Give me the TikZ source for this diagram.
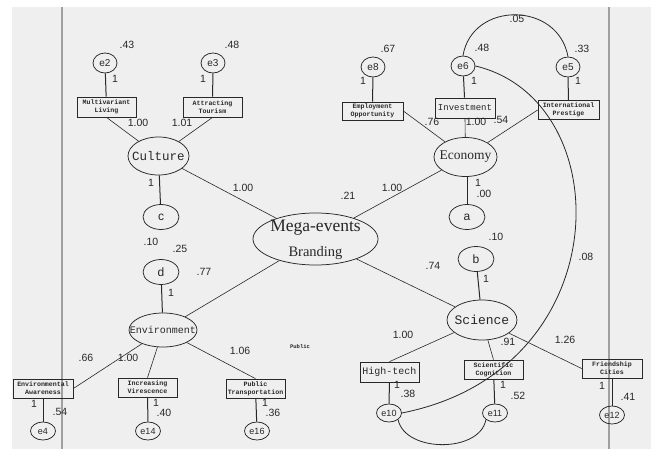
\documentclass[tikz,border=0pt]{standalone}
\usepackage{fontspec}
\setmainfont{Liberation Serif}
\newfontfamily\numfont{Liberation Sans}
\newfontfamily\monofont{Liberation Mono}
\usetikzlibrary{shapes.geometric}
\definecolor{bgc}{RGB}{239,239,239}
\definecolor{sepc}{RGB}{160,160,160}
\definecolor{ink}{RGB}{40,40,40}
\begin{document}
\begin{tikzpicture}[x=1pt,y=-1pt,
  lat/.style={ellipse,draw=ink,line width=0.75pt,inner sep=0pt},
  errn/.style={lat,minimum width=24pt,minimum height=20pt,label={[font=\numfont\fontsize{10}{12}\selectfont,text=ink]center:#1}},
  errs/.style={lat,minimum width=25pt,minimum height=18pt,label={[font=\numfont\fontsize{9}{11}\selectfont,text=ink]center:#1}},
  smallc/.style={lat,minimum width=36pt,minimum height=25pt,label={[font=\numfont\fontsize{12}{14}\selectfont,text=ink]center:#1}},
  obs/.style={rectangle,draw=ink,line width=0.75pt,inner sep=0pt,minimum width=59pt,minimum height=19pt,align=center,text=ink,font=\monofont\bfseries\fontsize{6.6}{8}\selectfont},
  num/.style={font=\numfont\fontsize{10.5}{12}\selectfont,inner sep=0pt,text=ink},
  thk/.style={draw=ink,line width=1pt},
  thn/.style={draw=ink,line width=0.6pt}
]
\useasboundingbox (0,0) rectangle (654,450);
\fill[white] (0,0) rectangle (654,450);
\fill[bgc] (12,7) rectangle (651,449);
\draw[sepc,line width=1.5pt] (62,7) -- (62,449);
\draw[sepc,line width=1.5pt] (609,7) -- (609,449);

% error terms
\node[errn=e2] (e2) at (105,63) {};
\node[errn=e3] (e3) at (213,63) {};
\node[errn=e8] (e8) at (373,67) {};
\node[errn=e6] (e6) at (463,66) {};
\node[errn=e5] (e5) at (568,67) {};
\node[errs=e4] (e4) at (43,431) {};
\node[errs=e14] (e14) at (148,431) {};
\node[errs=e16] (e16) at (257,431) {};
\node[errs=e10] (e10) at (389,413) {};
\node[errs=e11] (e11) at (495,413) {};
\node[errs=e12] (e12) at (612,415) {};

% observed boxes
\node[obs,minimum height=20pt] (ml) at (106.5,107) {Multivariant\\Living};
\node[obs,minimum height=20pt] (at) at (212.5,107) {Attracting\\Tourism};
\node[obs,minimum width=61pt,minimum height=18pt] (eo) at (372.5,111) {Employment\\Opportunity};
\node[obs,minimum width=60pt,minimum height=20pt,font=\monofont\fontsize{9}{11}\selectfont] (inv) at (465,108) {Investment};
\node[obs,minimum width=61pt] (ip) at (568.5,110) {International\\Prestige};
\node[obs,minimum width=60pt] (ea) at (43,388.5) {Environmental\\Awareness};
\node[obs] (iv) at (147.5,387.5) {Increasing\\Virescence};
\node[obs] (pt) at (255.5,388.5) {Public\\Transportation};
\node[obs,minimum height=20pt,font=\monofont\fontsize{10}{12}\selectfont] (ht) at (389.5,372) {High-tech};
\node[obs] (sc) at (493.5,369.5) {Scientific\\Cognition};
\node[obs,minimum width=60pt] (fc) at (612,368.5) {Friendship\\Cities};

% latent variables
\node[lat,minimum width=61pt,minimum height=38pt,label={[font=\monofont\fontsize{12.5}{14}\selectfont,text=ink]center:Culture}] (cul) at (158.5,156) {};
\node[lat,minimum width=63pt,minimum height=39pt,label={[font=\fontsize{13.5}{15}\selectfont,text=ink]center:Economy}] (eco) at (465.5,157) {};
\node[lat,minimum width=70pt,minimum height=40pt,label={[font=\monofont\fontsize{13}{15}\selectfont,text=ink]center:Science}] (sci) at (482,320) {};
\node[lat,minimum width=68pt,minimum height=34pt,label={[font=\monofont\fontsize{10}{12}\selectfont,text=ink]center:Environment}] (env) at (163,330) {};
\node[lat,minimum width=125pt,minimum height=52pt] (meb) at (315.5,239) {};
\node[font=\fontsize{17.5}{20}\selectfont,text=ink,inner sep=0pt,anchor=base] (mebt1) at (315.5,231) {Mega-events};
\node[font=\fontsize{14.5}{17}\selectfont,text=ink,inner sep=0pt,anchor=base] (mebt2) at (315.5,256) {Branding};

\node[smallc=c] (c) at (161,217) {};
\node[smallc=d] (d) at (161,272) {};
\node[smallc=a] (a) at (467,217) {};
\node[smallc=b] (b) at (476,259) {};

% connectors
\draw[thk] (e2) -- (ml);
\draw[thk] (e3) -- (at);
\draw[thk] (e8) -- (eo);
\draw[thk] (e6) -- (inv);
\draw[thk] (e5) -- (ip);
\draw[thn] (ml.south) -- (cul);
\draw[thn] (at.south) -- (cul);
\draw[thk] (cul) -- (c);
\draw[thn] (cul) -- (meb);
\draw[thn] (eo.east) -- (eco);
\draw[thn] (inv.south) -- (eco);
\draw[thn] (ip.west) -- (eco);
\draw[thn] (eco) -- (meb);
\draw[thk] (a) -- (a |- eco.south);
\draw[thn] (meb) -- (sci);
\draw[thk] (b) -- (sci);
\draw[thn] (sci) -- (ht.north);
\draw[thn] (sci) -- (sc.north);
\draw[thn] (sci) -- (fc.west);
\draw[thk] (ht) -- (e10);
\draw[thk] (sc) -- (e11);
\draw[thk] (fc) -- (e12);
\draw[thn] (meb) -- (env);
\draw[thk] (d) -- (env);
\draw[thn] (env) -- (ea.east);
\draw[thn] (env) -- (iv.north);
\draw[thn] (env) -- (pt.north);
\draw[thk] (ea) -- (e4);
\draw[thk] (iv) -- (e14);
\draw[thk] (pt) -- (e16);

% covariances
\draw[thn,line width=0.8pt] (e6.north) .. controls (472,1) and (558,1) .. (e5.north);
\draw[thn,line width=0.8pt] (e10.south east) .. controls (405,453) and (480,453) .. (e11.south west);
\draw[thn,line width=0.8pt] (e6.east) .. controls (620,100) and (620,370) .. (e10.east);

% numeric labels
\node[num] (n1) at (127,45) {.43};
\node[num] (n2) at (115,79) {1};
\node[num] (n3) at (232,45) {.48};
\node[num] (n4) at (203,79) {1};
\node[num] (n5) at (138,123) {1.00};
\node[num] (n6) at (182,123) {1.01};
\node[num] (n7) at (151,183) {1};
\node[num] (n8) at (243,188) {1.00};
\node[num] (n9) at (388,49) {.67};
\node[num] (n10) at (363,81) {1};
\node[num] (n11) at (482,48) {.48};
\node[num] (n12) at (474,81) {1};
\node[num] (n13) at (582,49) {.33};
\node[num] (n14) at (578,81) {1};
\node[num] (n15) at (517,19) {.05};
\node[num] (n16) at (432,122) {.76};
\node[num] (n17) at (476,122) {1.00};
\node[num] (n18) at (501,120) {.54};
\node[num] (n19) at (392,188) {1.00};
\node[num] (n20) at (478,183) {1};
\node[num] (n21) at (484,194) {.00};
\node[num] (n22) at (348,196) {.21};
\node[num] (n23) at (496,237) {.10};
\node[num] (n24) at (486,279) {1};
\node[num] (n25) at (433,266) {.74};
\node[num] (n26) at (586,257) {.08};
\node[num] (n27) at (403,335) {1.00};
\node[num] (n28) at (508,342) {.91};
\node[num] (n29) at (565,340) {1.26};
\node[num] (n30) at (397,385) {1};
\node[num] (n31) at (408,394) {.38};
\node[num] (n32) at (503,385) {1};
\node[num] (n33) at (518,396) {.52};
\node[num] (n34) at (602,386) {1};
\node[num] (n35) at (628,397) {.41};
\node[num] (n36) at (151,242) {.10};
\node[num] (n37) at (180,249) {.25};
\node[num] (n38) at (204,272) {.77};
\node[num] (n39) at (171,293) {1};
\node[num] (n40) at (86,358) {.66};
\node[num] (n41) at (128,358) {1.00};
\node[num] (n42) at (240,351) {1.06};
\node[num] (n43) at (34,404) {1};
\node[num] (n44) at (60,412) {.54};
\node[num] (n45) at (156,403) {1};
\node[num] (n46) at (164,413) {.40};
\node[num] (n47) at (265,403) {1};
\node[num] (n48) at (273,413) {.36};
\node[font=\monofont\bfseries\fontsize{5.5}{7}\selectfont,text=ink,inner sep=0pt] (pub) at (300,347) {Public};
\end{tikzpicture}
\end{document}
